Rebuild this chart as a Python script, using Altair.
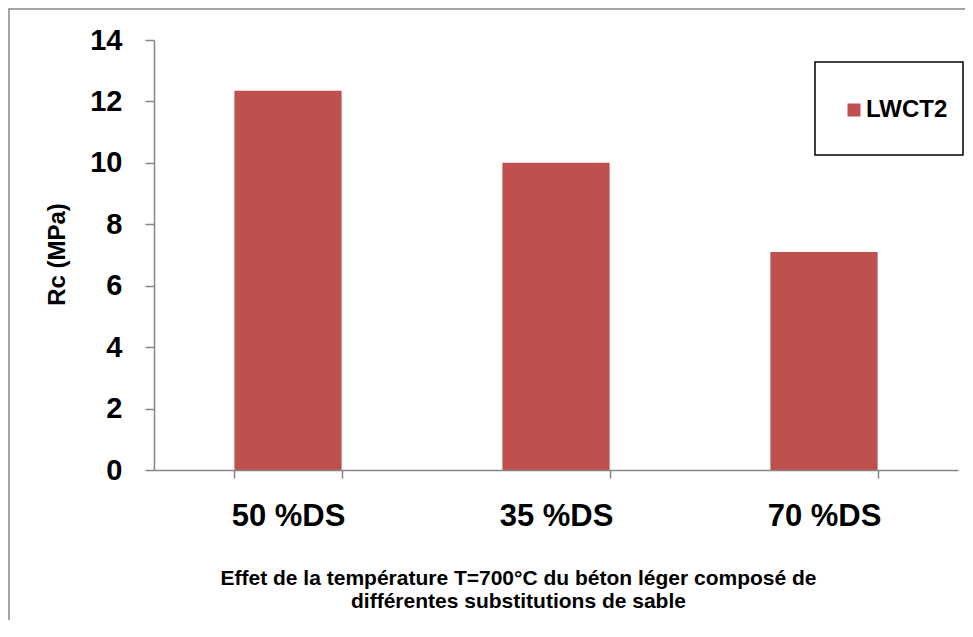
import altair as alt
import pandas as pd

categories = ["50 %DS", "35 %DS", "70 %DS"]
values = [12.35, 10.0, 7.1]
series = ["LWCT2", "LWCT2", "LWCT2"]
y_ticks = [0, 2, 4, 6, 8, 10, 12, 14]

df = pd.DataFrame({"cat": categories, "val": values, "serie": series})
one = pd.DataFrame({"k": [0]})

FONT = "Liberation Sans"
GRAY = "#868686"
W, H = 804, 430

frame = alt.Chart(one).mark_rect(
    fillOpacity=0, stroke=GRAY, strokeWidth=1.5
).encode(
    x=alt.value(-145), x2=alt.value(1000),
    y=alt.value(-31), y2=alt.value(800),
)

bars = alt.Chart(df).mark_bar(color="#C0504D").encode(
    x=alt.X(
        "cat:N", sort=categories,
        scale=alt.Scale(paddingInner=0.6, paddingOuter=0.3),
        axis=alt.Axis(
            labelAngle=0, labelFont=FONT, labelFontSize=31, labelFontWeight="bold",
            labelColor="black", labelPadding=23, tickBand="extent",
            domainColor=GRAY, domainWidth=1.5, tickColor=GRAY, tickWidth=1.5, tickSize=8,
            title=["Effet de la température T=700°C du béton léger composé de",
                   "différentes substitutions de sable"],
            titleFont=FONT, titleFontSize=21, titleFontWeight="bold", titleColor="black",
            titleLineHeight=23, titleX=364, titleY=97, titleBaseline="top",
            titleAlign="center", zindex=1,
        ),
    ),
    y=alt.Y(
        "val:Q",
        scale=alt.Scale(domain=[0, 14], nice=False),
        axis=alt.Axis(
            values=y_ticks, grid=False, labelFont=FONT, labelFontSize=29,
            labelFontWeight="bold", labelColor="black", labelPadding=23,
            domainColor=GRAY, domainWidth=1.5, tickColor=GRAY, tickWidth=1.5, tickSize=9,
            title="Rc (MPa)", titleFont=FONT, titleFontSize=24, titleFontWeight="bold",
            titleColor="black", titleAngle=-90, titleX=-97, titleY=214,
            titleBaseline="middle", titleAlign="center", zindex=1,
        ),
    ),
    color=alt.Color(
        "serie:N",
        scale=alt.Scale(range=["#C0504D"]),
        legend=alt.Legend(
            title=None, orient="none", legendX=688, legendY=58,
            symbolType="square", symbolSize=169, symbolStrokeWidth=0,
            labelFont=FONT, labelFontSize=24, labelFontWeight="bold",
            labelColor="black", labelOffset=0, padding=0,
        ),
    ),
)

legend_box = alt.Chart(one).mark_rect(
    fill="white", stroke="black", strokeWidth=1.5
).encode(
    x=alt.value(661), x2=alt.value(809),
    y=alt.value(22), y2=alt.value(115),
)

chart = alt.layer(frame, legend_box, bars).properties(
    width=W, height=H,
    autosize=alt.AutoSizeParams(type="none"),
    padding={"left": 146, "top": 32, "right": 7, "bottom": 150},
    background="white",
).configure_view(stroke=None)

chart.save("out.html", embed_options={"renderer": "svg", "actions": False})
